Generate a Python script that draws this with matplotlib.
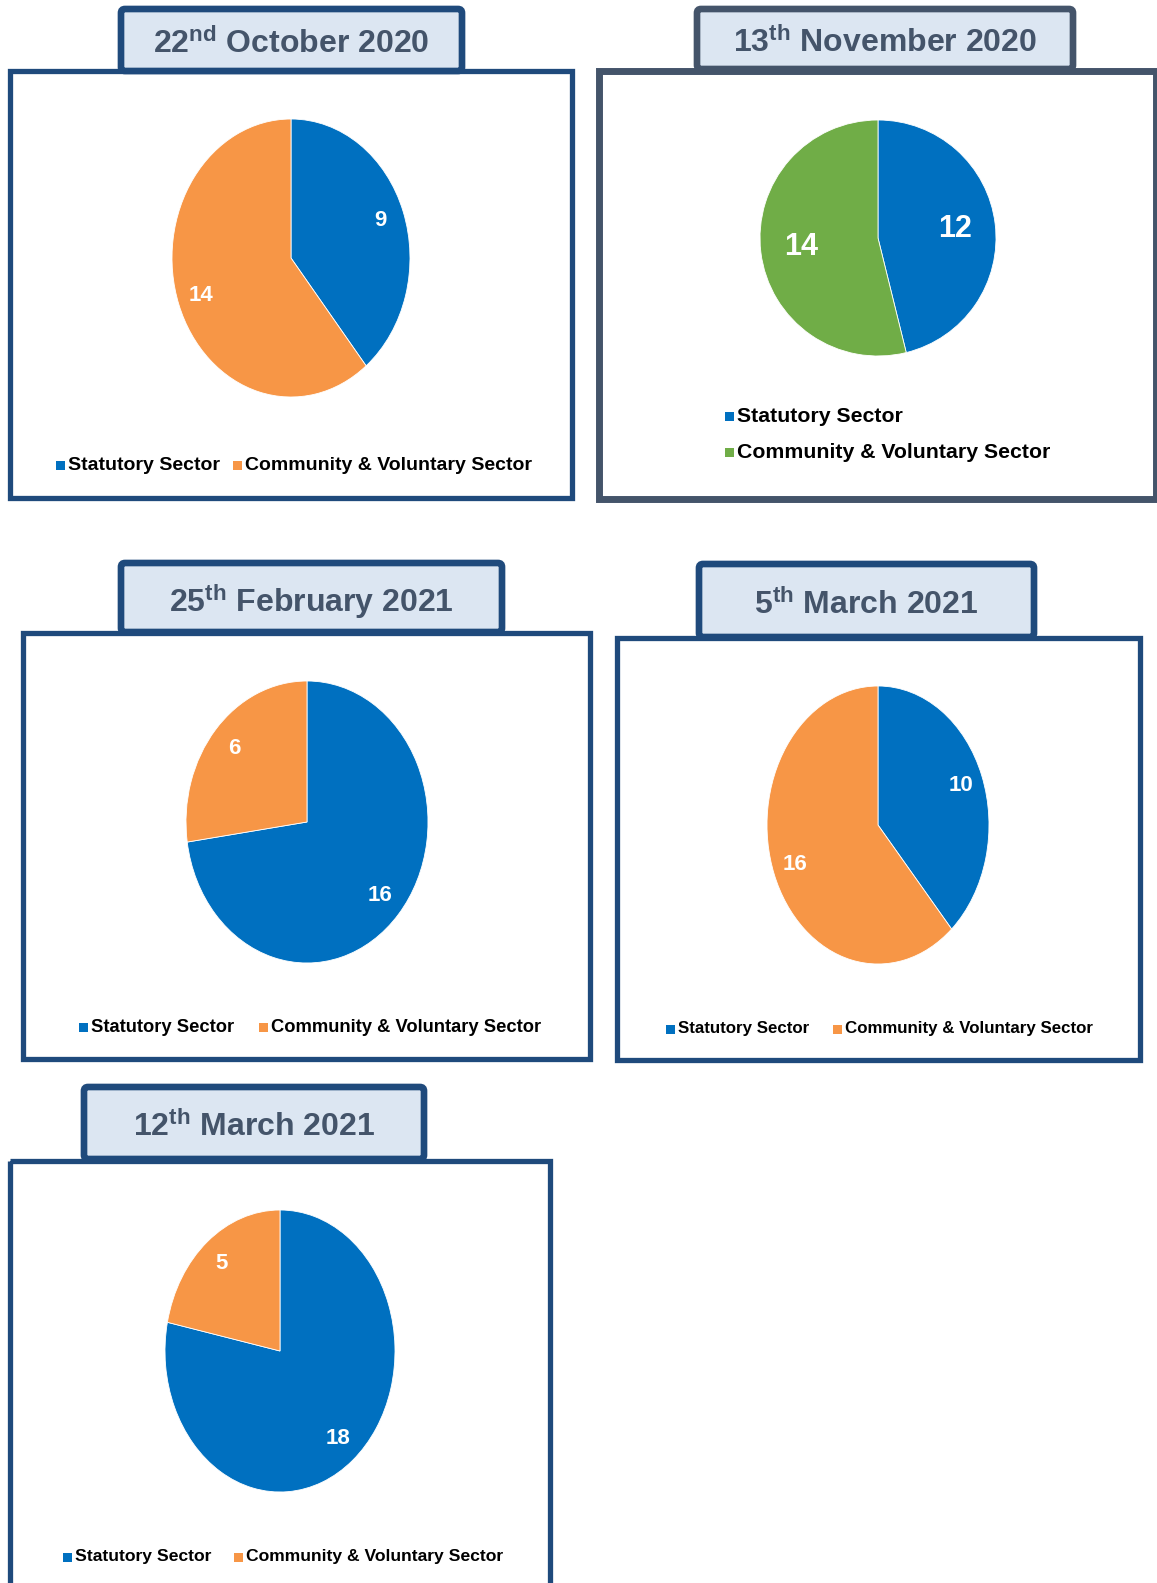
import matplotlib
matplotlib.use("Agg")
import matplotlib.pyplot as plt
from matplotlib.patches import Rectangle, FancyBboxPatch

W, H = 1157, 1583

# data
days = ["22", "13", "25", "5", "12"]
suffixes = ["nd", "th", "th", "th", "th"]
months = ["October 2020", "November 2020", "February 2021", "March 2021", "March 2021"]
statutory = [9, 12, 16, 10, 18]
community = [14, 14, 6, 16, 5]
labels = ["Statutory Sector", "Community & Voluntary Sector"]

blue = "#0070C0"
orange = "#F79646"
green = "#70AD47"
navy = "#1F4A7C"
slate = "#44546A"
title_fill = "#DCE6F2"

community_colors = [orange, green, orange, orange, orange]
border_colors = [navy, slate, navy, navy, navy]

# layout in pixels (x0, y0, x1, y1) measured from top-left
outer_boxes = [(10, 71, 572, 498), (599, 71, 1156, 499), (23, 633, 590, 1059),
               (617, 638, 1140, 1060), (10, 1161, 550, 1610)]
title_boxes = [(121, 9, 462, 71), (697, 9, 1073, 69), (121, 563, 502, 632),
               (699, 564, 1034, 637), (84, 1087, 424, 1159)]
pie_geom = [(291, 258, 119, 139), (878, 238, 118, 118), (307, 822, 121, 141),
            (878, 825, 111, 139), (280, 1351, 115, 141)]
legend_pos = [[(56, 465), (233, 465)], [(725, 416), (725, 452)],
              [(79, 1027), (259, 1027)], [(666, 1029), (833, 1029)],
              [(63, 1557), (234, 1557)]]
legend_size = [14, 15.3, 13.2, 12.2, 12.6]

plt.rcParams["font.family"] = ["Liberation Sans", "DejaVu Sans"]
plt.rcParams["mathtext.fontset"] = "custom"
plt.rcParams["mathtext.rm"] = "Liberation Sans:bold"
plt.rcParams["mathtext.default"] = "rm"

fig = plt.figure(figsize=(W / 100, H / 100), dpi=100)
bg = fig.add_axes([0, 0, 1, 1])
bg.set_xlim(0, W)
bg.set_ylim(H, 0)
bg.axis("off")

for i in range(5):
    x0, y0, x1, y1 = outer_boxes[i]
    lw = 5.0 if i == 1 else 3.8
    bg.add_patch(Rectangle((x0, y0), x1 - x0, y1 - y0, fill=False,
                           edgecolor=border_colors[i], linewidth=lw, zorder=2))
    tx0, ty0, tx1, ty1 = title_boxes[i]
    bg.add_patch(FancyBboxPatch((tx0, ty0), tx1 - tx0, ty1 - ty0,
                                boxstyle="round,pad=0,rounding_size=4",
                                facecolor=title_fill, edgecolor=border_colors[i],
                                linewidth=4.8, zorder=3))
    bg.text((tx0 + tx1) / 2, (ty0 + ty1) / 2 + 4,
            f"{days[i]}$^{{{suffixes[i]}}}$ {months[i]}",
            ha="center", va="center", fontsize=23, fontweight="bold",
            color=slate, zorder=4)

    # legend
    big = i == 1
    cols = [blue, community_colors[i]]
    for (lx, ly), lab, c in zip(legend_pos[i], labels, cols):
        bg.add_patch(Rectangle((lx, ly - 4.5), 9, 9, facecolor=c, edgecolor="none", zorder=4))
        bg.text(lx + 12, ly, lab, ha="left", va="center", fontsize=legend_size[i],
                fontweight="bold", color="black", zorder=4)

    # pie
    cx, cy, rx, ry = pie_geom[i]
    ax = fig.add_axes([(cx - rx) / W, 1 - (cy + ry) / H, 2 * rx / W, 2 * ry / H])
    vals = [statutory[i], community[i]]
    total = sum(vals)
    _, _, autotexts = ax.pie(vals, colors=cols, startangle=90, counterclock=False,
                             autopct=lambda p, t=total: f"{round(p * t / 100)}",
                             pctdistance=0.66 if big else 0.8,
                             wedgeprops=dict(edgecolor="white", linewidth=0.6))
    for t in autotexts:
        t.set_color("white")
        t.set_fontweight("bold")
        t.set_fontsize(22 if big else 16)
    ax.set_aspect("auto")
    ax.set_xlim(-1, 1)
    ax.set_ylim(-1, 1)
    ax.axis("off")

fig.savefig("out.png", dpi=100)
